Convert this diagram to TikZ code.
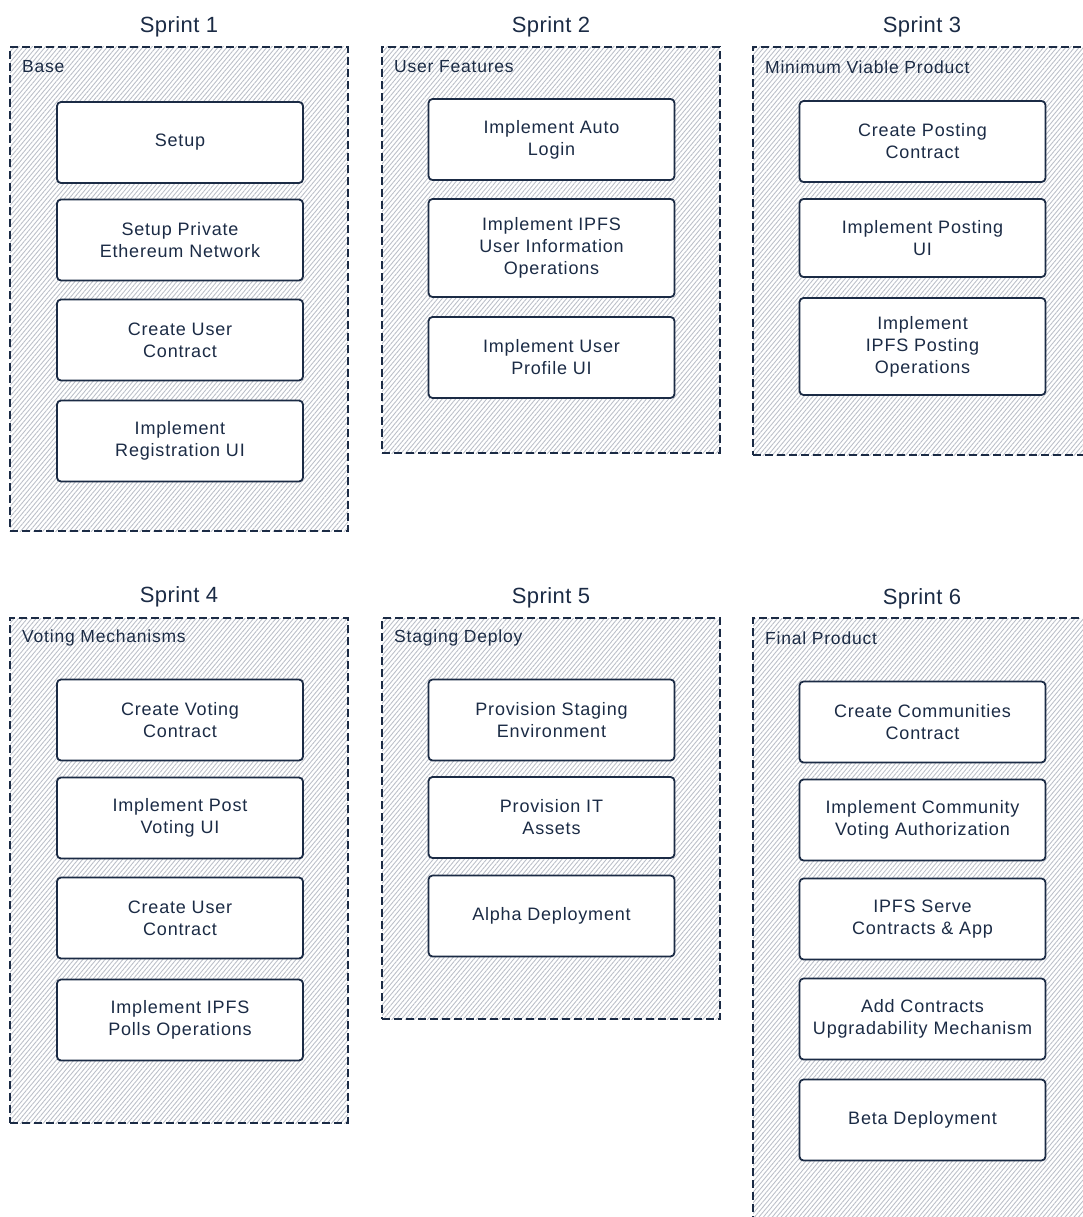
\documentclass[tikz,border=0pt]{standalone}
\usepackage{fontspec}
\setmainfont{Liberation Sans}[LetterSpace=4.5]
\newfontfamily\headfont{Liberation Sans}[LetterSpace=2]
\usetikzlibrary{patterns.meta}
\definecolor{ink}{HTML}{1B2B45}
\definecolor{hatch}{HTML}{BCC0C9}

\begin{document}
\begin{tikzpicture}[x=1pt,y=-1pt]
\tikzset{frame/.style={draw=ink,line width=1.8pt,dash pattern=on 8pt off 4pt,
    pattern={Lines[angle=50,distance=3.4pt,line width=0.9pt]},pattern color=hatch,
    minimum width=338,inner sep=0pt},
  task/.style={draw=ink,line width=1.8pt,fill=white,rounded corners=4pt,
    minimum width=246,minimum height=81,align=center,text=ink,inner sep=2pt,
    font=\fontsize{18}{22}\selectfont},
  title/.style={text=ink,font=\headfont\fontsize{22}{26}\selectfont,inner sep=0pt},
  lbl/.style={anchor=west,text=ink,font=\fontsize{17.5}{21}\selectfont,inner sep=0pt}}
\clip (0,0) rectangle (1083,1217);

\node[frame,minimum height=484] (f1) at (179,289) {};
\node[frame,minimum height=406] (f2) at (551,250) {};
\node[frame,minimum height=408] (f3) at (922,251) {};
\node[frame,minimum height=505] (f4) at (179,870.5) {};
\node[frame,minimum height=401] (f5) at (551,818.5) {};
\node[frame,minimum height=622] (f6) at (922,929) {};

\node[title] (s1) at (179,27) {Sprint 1};
\node[title] (s2) at (551,27) {Sprint 2};
\node[title] (s3) at (922,27) {Sprint 3};
\node[title] (s4) at (179,597) {Sprint 4};
\node[title] (s5) at (551,598) {Sprint 5};
\node[title] (s6) at (922,599) {Sprint 6};

\node[lbl] (l1) at (22,67) {Base};
\node[lbl] (l2) at (394,67) {User Features};
\node[lbl] (l3) at (765,67) {Minimum Viable Product};
\node[lbl] (l4) at (22,638) {Voting Mechanisms};
\node[lbl] (l5) at (394,638) {Staging Deploy};
\node[lbl] (l6) at (765,638) {Final Product};

\node[task] (t1a) at (180,142.5) {Setup};
\node[task] (t1b) at (180,240) {Setup Private\\Ethereum Network};
\node[task] (t1c) at (180,340) {Create User\\Contract};
\node[task] (t1d) at (180,441) {Implement\\Registration UI};

\node[task] (t2a) at (551.5,139.5) {Implement Auto\\Login};
\node[task,minimum height=98] (t2b) at (551.5,248) {Implement IPFS\\User Information\\Operations};
\node[task] (t2c) at (551.5,357.5) {Implement User\\Profile UI};

\node[task] (t3a) at (922.5,141.5) {Create Posting\\Contract};
\node[task,minimum height=78] (t3b) at (922.5,238) {Implement Posting\\UI};
\node[task,minimum height=97] (t3c) at (922.5,346.5) {Implement\\IPFS Posting\\Operations};

\node[task] (t4a) at (180,720) {Create Voting\\Contract};
\node[task] (t4b) at (180,818) {Implement Post\\Voting UI};
\node[task] (t4c) at (180,918) {Create User\\Contract};
\node[task] (t4d) at (180,1020) {Implement IPFS\\Polls Operations};

\node[task] (t5a) at (551.5,720) {Provision Staging\\Environment};
\node[task] (t5b) at (551.5,817.5) {Provision IT\\Assets};
\node[task] (t5c) at (551.5,916) {Alpha Deployment};

\node[task] (t6a) at (922.5,722) {Create Communities\\Contract};
\node[task] (t6b) at (922.5,820) {Implement Community\\Voting Authorization};
\node[task] (t6c) at (922.5,919) {IPFS Serve\\Contracts \& App};
\node[task] (t6d) at (922.5,1019) {Add Contracts\\Upgradability Mechanism};
\node[task] (t6e) at (922.5,1120) {Beta Deployment};
\end{tikzpicture}
\end{document}
